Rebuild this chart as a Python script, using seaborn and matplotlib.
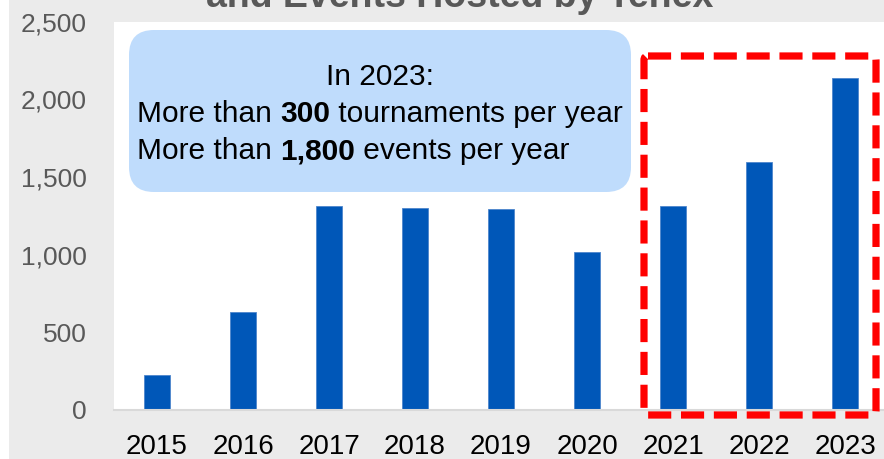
import matplotlib
matplotlib.use("Agg")
import matplotlib.pyplot as plt
import seaborn as sns
import numpy as np
import pandas as pd
from matplotlib.patches import FancyBboxPatch, Rectangle

years = ["2015", "2016", "2017", "2018", "2019", "2020", "2021", "2022", "2023"]
counts = [220, 630, 1310, 1302, 1295, 1018, 1314, 1600, 2140]
y_ticks = [0, 500, 1000, 1500, 2000, 2500]
y_tick_labels = ["0", "500", "1,000", "1,500", "2,000", "2,500"]
title_text = "and Events Hosted by Tenex"
box_line1 = "In 2023:"
box_line2 = ("More than ", "300", " tournaments per year")
box_line3 = ("More than ", "1,800", " events per year")

sns.set_style("white")
plt.rcParams["font.family"] = ["Liberation Sans", "DejaVu Sans"]

W, H = 884, 459
fig = plt.figure(figsize=(W / 100, H / 100), dpi=100)
fig.patch.set_facecolor("#ebebeb")

# white strip on far left
fig.patches.append(Rectangle((0, 0), 9 / W, 1, transform=fig.transFigure,
                             facecolor="white", edgecolor="none", zorder=0))

left, right, top, bottom = 114, 888, 22, 409.5
ax = fig.add_axes([left / W, (H - bottom) / H, (right - left) / W, (bottom - top) / H])
ax.set_facecolor("white")

df = pd.DataFrame({"year": years, "count": counts})
sns.barplot(data=df, x="year", y="count", color="#0057B8", saturation=1,
            width=0.3, ax=ax, edgecolor="#4d86cc", linewidth=0.6)

ax.set_xlim(-0.5, len(years) - 0.5)
ax.set_ylim(0, 2500)
ax.set_yticks(y_ticks)
ax.set_yticklabels(y_tick_labels)
ax.set_xticks(range(len(years)))
ax.set_xticklabels(years)
ax.set_xticks(np.arange(-0.5, len(years), 1), minor=True)
ax.tick_params(axis="x", which="major", length=0, pad=17.5, labelsize=20, labelcolor="black")
ax.tick_params(axis="x", which="minor", length=7, width=1.5, color="#d9d9d9", direction="out")
ax.tick_params(axis="y", length=0, pad=19.5, labelsize=19, labelcolor="#595959")
ax.set_xlabel("")
ax.set_ylabel("")
for s in ["top", "right", "left"]:
    ax.spines[s].set_visible(False)
ax.spines["bottom"].set_color("#d9d9d9")
ax.spines["bottom"].set_linewidth(1.5)
ax.grid(False)

# overlay in pixel coordinates for annotations
ov = fig.add_axes([0, 0, 1, 1])
ov.set_xlim(0, W)
ov.set_ylim(H, 0)
ov.axis("off")
ov.patch.set_alpha(0)

box = FancyBboxPatch((129 + 25, 30 + 25), (631 - 129) - 50, (192 - 30) - 50,
                     boxstyle="round,pad=25,rounding_size=25",
                     facecolor="#bfdcfc", edgecolor="none", zorder=2)
ov.add_patch(box)

red = FancyBboxPatch((644 + 2, 56 + 2), (876 - 644) - 4, (415 - 56) - 4,
                     boxstyle="round,pad=2,rounding_size=4",
                     facecolor="none", edgecolor="#ff0000", linewidth=5.2,
                     linestyle=(0, (3.2, 1.35)), zorder=3, clip_on=False)
ov.add_patch(red)

fs = 21.5
ov.text(380, 85, box_line1, ha="center", va="baseline", fontsize=fs, color="black", zorder=4)

def mixed_line(x, y, parts):
    t = ov.text(x, y, parts[0], ha="left", va="baseline", fontsize=fs, color="black", zorder=4)
    t2 = ov.annotate(parts[1], xy=(1, 0), xycoords=t, ha="left", va="bottom",
                     fontsize=fs, fontweight="bold", color="black", zorder=4)
    ov.annotate(parts[2], xy=(1, 0), xycoords=t2, ha="left", va="bottom",
                fontsize=fs, color="black", zorder=4)

mixed_line(137, 122, box_line2)
mixed_line(137, 159, box_line3)

fig.text(206 / W, 1 - 7 / H, title_text, ha="left", va="baseline",
         fontsize=27, fontweight="bold", color="#595959")

fig.savefig("out.png", dpi=100, facecolor=fig.get_facecolor())
